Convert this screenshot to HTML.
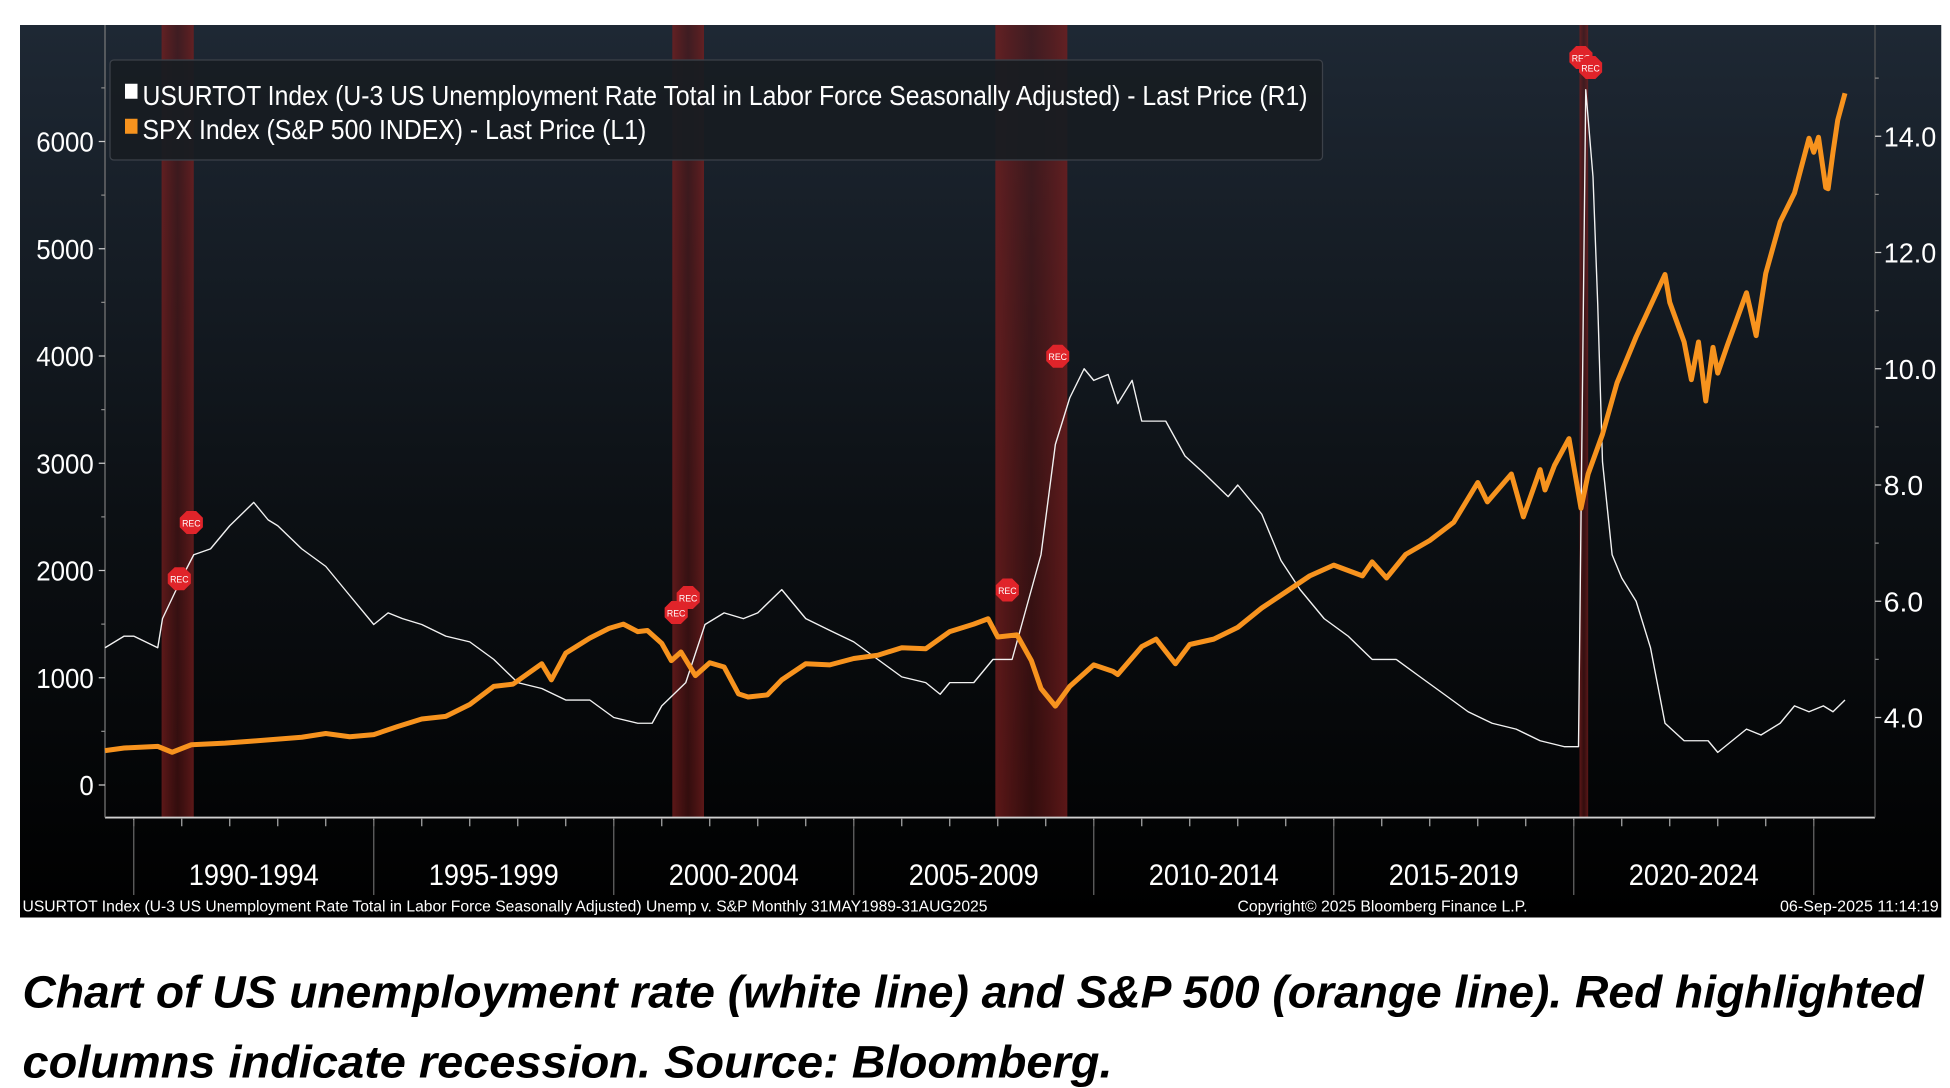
<!DOCTYPE html>
<html><head><meta charset="utf-8"><style>
html,body{margin:0;padding:0;background:#fff;}
svg{display:block;}
text{font-family:"Liberation Sans Narrow","Liberation Sans",sans-serif;}
</style></head><body>
<svg id="chart" width="1950" height="1088" viewBox="0 0 1560 870.4" xmlns="http://www.w3.org/2000/svg">
<defs>
<linearGradient id="bg" x1="0" y1="0" x2="0" y2="1">
<stop offset="0" stop-color="#1e2834"/><stop offset="0.55" stop-color="#0c1014"/><stop offset="1" stop-color="#000"/>
</linearGradient>
<linearGradient id="rec" x1="0" y1="0" x2="1" y2="0">
<stop offset="0" stop-color="#7a1e1e" stop-opacity="0.75"/><stop offset="0.5" stop-color="#5a1414" stop-opacity="0.55"/><stop offset="1" stop-color="#7a1e1e" stop-opacity="0.75"/>
</linearGradient>
</defs>
<rect x="16" y="20" width="1537" height="714" fill="url(#bg)"/>
<g id="rec-layer"></g>
<g id="axes"></g>
<g id="lines"></g>
<g id="markers"></g>
<g>
<rect x="88" y="48" width="970" height="80" rx="3" fill="#171c22" fill-opacity="0.92" stroke="#3c4149"/>
<rect x="100" y="67" width="10" height="12" fill="#fff"/>
<text x="114" y="84" font-size="22" fill="#fff" textLength="932" lengthAdjust="spacingAndGlyphs">USURTOT Index (U-3 US Unemployment Rate Total in Labor Force Seasonally Adjusted) - Last Price (R1)</text>
<rect x="100" y="95" width="10" height="12" fill="#f7931e"/>
<text x="114" y="111" font-size="22" fill="#fff" textLength="403" lengthAdjust="spacingAndGlyphs">SPX Index (S&amp;P 500 INDEX) - Last Price (L1)</text>
</g>
<text x="18" y="729" font-size="12.5" fill="#fff" textLength="772" lengthAdjust="spacingAndGlyphs">USURTOT Index (U-3 US Unemployment Rate Total in Labor Force Seasonally Adjusted) Unemp v. S&amp;P  Monthly 31MAY1989-31AUG2025</text>
<text x="990" y="729" font-size="12.5" fill="#fff" textLength="232" lengthAdjust="spacingAndGlyphs">Copyright© 2025 Bloomberg Finance L.P.</text>
<text x="1424" y="729" font-size="12.5" fill="#fff" textLength="127" lengthAdjust="spacingAndGlyphs">06-Sep-2025 11:14:19</text>
<text x="18" y="806" font-size="36" font-weight="bold" font-style="italic" fill="#000" style="font-family:'Liberation Sans',sans-serif" textLength="1521" lengthAdjust="spacingAndGlyphs">Chart of US unemployment rate (white line) and S&amp;P 500 (orange line). Red highlighted</text>
<text x="18" y="862" font-size="36" font-weight="bold" font-style="italic" fill="#000" style="font-family:'Liberation Sans',sans-serif" textLength="872" lengthAdjust="spacingAndGlyphs">columns indicate recession.  Source: Bloomberg.</text>
</svg>
<script>
const spxDates=[1989.4,1989.8,1990.5,1990.8,1991.2,1991.9,1992.5,1993.5,1994.0,1994.5,1995.0,1995.5,1996.0,1996.5,1997.0,1997.5,1997.9,1998.5,1998.7,1999.0,1999.5,1999.9,2000.2,2000.5,2000.7,2001.0,2001.2,2001.4,2001.7,2002.0,2002.3,2002.6,2002.8,2003.2,2003.5,2004.0,2004.5,2005.0,2005.5,2006.0,2006.5,2007.0,2007.5,2007.8,2008.0,2008.4,2008.7,2008.9,2009.2,2009.5,2010.0,2010.4,2010.5,2011.0,2011.3,2011.7,2012.0,2012.5,2013.0,2013.5,2014.0,2014.5,2015.0,2015.6,2015.8,2016.1,2016.5,2017.0,2017.5,2018.0,2018.2,2018.7,2018.95,2019.3,2019.4,2019.6,2019.9,2020.15,2020.3,2020.6,2020.9,2021.3,2021.9,2022.0,2022.3,2022.45,2022.6,2022.75,2022.9,2023.0,2023.2,2023.6,2023.8,2024.0,2024.3,2024.6,2024.9,2025.0,2025.1,2025.25,2025.3,2025.4,2025.5,2025.65];
const spxValues=[320,345,360,305,375,390,410,445,480,450,470,545,615,640,750,920,940,1130,980,1230,1370,1460,1500,1430,1440,1320,1160,1240,1020,1140,1100,850,820,840,980,1130,1120,1180,1210,1280,1270,1430,1500,1550,1380,1400,1160,900,735,920,1120,1060,1030,1290,1360,1130,1310,1360,1470,1650,1800,1950,2050,1950,2080,1930,2150,2280,2450,2820,2640,2900,2500,2940,2750,2980,3230,2580,2900,3270,3750,4180,4760,4500,4130,3780,4130,3580,4080,3840,4100,4590,4190,4770,5250,5520,6030,5900,6040,5570,5560,5900,6200,6450];
const unDates=[1989.4,1989.8,1990.0,1990.5,1990.6,1991.0,1991.25,1991.6,1992.0,1992.5,1992.8,1993.0,1993.5,1994.0,1994.5,1995.0,1995.3,1995.6,1996.0,1996.5,1997.0,1997.5,1998.0,1998.5,1999.0,1999.5,2000.0,2000.5,2000.8,2001.0,2001.25,2001.5,2001.9,2002.3,2002.7,2003.0,2003.5,2003.8,2004.0,2004.5,2005.0,2005.5,2006.0,2006.5,2006.8,2007.0,2007.5,2007.9,2008.3,2008.5,2008.9,2009.2,2009.5,2009.8,2010.0,2010.3,2010.5,2010.8,2011.0,2011.5,2011.9,2012.3,2012.8,2013.0,2013.5,2013.9,2014.3,2014.8,2015.3,2015.8,2016.3,2016.8,2017.3,2017.8,2018.3,2018.8,2019.3,2019.8,2020.1,2020.25,2020.4,2020.5,2020.6,2020.8,2021.0,2021.3,2021.6,2021.9,2022.3,2022.8,2023.0,2023.3,2023.6,2023.9,2024.3,2024.6,2024.9,2025.2,2025.4,2025.65];
const unValues=[5.2,5.4,5.4,5.2,5.7,6.4,6.8,6.9,7.3,7.7,7.4,7.3,6.9,6.6,6.1,5.6,5.8,5.7,5.6,5.4,5.3,5.0,4.6,4.5,4.3,4.3,4.0,3.9,3.9,4.2,4.4,4.6,5.6,5.8,5.7,5.8,6.2,5.9,5.7,5.5,5.3,5.0,4.7,4.6,4.4,4.6,4.6,5.0,5.0,5.6,6.8,8.7,9.5,10.0,9.8,9.9,9.4,9.8,9.1,9.1,8.5,8.2,7.8,8.0,7.5,6.7,6.2,5.7,5.4,5.0,5.0,4.7,4.4,4.1,3.9,3.8,3.6,3.5,3.5,14.8,13.3,11.1,8.4,6.8,6.4,6.0,5.2,3.9,3.6,3.6,3.4,3.6,3.8,3.7,3.9,4.2,4.1,4.2,4.1,4.3];
const recStarts=[1990.58,2001.22,2007.95,2020.12];
const recEnds=[1991.25,2001.88,2009.45,2020.3];
const leftTicks=[0,1000,2000,3000,4000,5000,6000];
const rightTicks=[4.0,6.0,8.0,10.0,12.0,14.0];
const periodLabels=["1990-1994","1995-1999","2000-2004","2005-2009","2010-2014","2015-2019","2020-2024"];
const periodStarts=[1990,1995,2000,2005,2010,2015,2020];

const NS="http://www.w3.org/2000/svg";
const xS=t=>107+(t-1990)*38.4;
const yL=v=>628-v*0.0858;
const yR=v=>574-(v-4)*46.5;
function mk(tag,attrs,parent){const e=document.createElementNS(NS,tag);for(const k in attrs)e.setAttribute(k,attrs[k]);parent.appendChild(e);return e;}
const recG=document.getElementById('rec-layer'),axG=document.getElementById('axes'),lnG=document.getElementById('lines'),mkG=document.getElementById('markers');

recStarts.forEach((s,i)=>{
  const r=mk('rect',{x:xS(s),y:20,width:Math.max(xS(recEnds[i])-xS(s),5),height:634,fill:'url(#rec)'},recG);
  
  
});

const ax=mk('line',{x1:84,y1:654,x2:1500,y2:654,stroke:'#d0d0d0','stroke-width':1.5},axG);

const la=mk('line',{x1:84,y1:20,x2:84,y2:654,stroke:'#777','stroke-width':1},axG);

const ra=mk('line',{x1:1500,y1:20,x2:1500,y2:654,stroke:'#555','stroke-width':1},axG);

leftTicks.forEach(v=>{
  mk('line',{x1:79,y1:yL(v),x2:84,y2:yL(v),stroke:'#ccc'},axG);
  mk('line',{x1:81,y1:yL(v+500),x2:84,y2:yL(v+500),stroke:'#888'},axG);
  const s=String(v);
  const t=mk('text',{x:75-s.length*11.5,y:yL(v)+8,'font-size':22,fill:'#fff',textLength:s.length*11.5,lengthAdjust:'spacingAndGlyphs'},axG);
  t.textContent=s;
  
});
rightTicks.forEach(v=>{
  mk('line',{x1:1500,y1:yR(v),x2:1505,y2:yR(v),stroke:'#ccc'},axG);
  mk('line',{x1:1500,y1:yR(v+1),x2:1503,y2:yR(v+1),stroke:'#888'},axG);
  const s=v.toFixed(1);
  const t=mk('text',{x:1507,y:yR(v)+8,'font-size':22,fill:'#fff',textLength:s.length*10.5,lengthAdjust:'spacingAndGlyphs'},axG);
  t.textContent=s;
  
});
for(let yr=1990;yr<=2025;yr++){mk('line',{x1:xS(yr),y1:655,x2:xS(yr),y2:661,stroke:'#aaa'},axG);}
periodStarts.concat([2025]).forEach(yr=>{mk('line',{x1:xS(yr),y1:656,x2:xS(yr),y2:716,stroke:'#666'},axG);});
periodLabels.forEach((l,i)=>{
  const cx=xS(periodStarts[i]+2.5);
  const t=mk('text',{x:cx-52,y:708,'font-size':24,fill:'#fff',textLength:104,lengthAdjust:'spacingAndGlyphs'},axG);
  t.textContent=l;
  
});

const un=mk('polyline',{points:unDates.map((d,i)=>xS(d).toFixed(1)+','+yR(unValues[i]).toFixed(1)).join(' '),fill:'none',stroke:'#f2f2f2','stroke-width':1.1,'stroke-linejoin':'round'},lnG);

const spx=mk('polyline',{points:spxDates.map((d,i)=>xS(d).toFixed(1)+','+yL(spxValues[i]).toFixed(1)).join(' '),fill:'none',stroke:'#f7931e','stroke-width':4,'stroke-linejoin':'round'},lnG);


const recMarkX=[1990.95,1991.2,2001.3,2001.55,2008.2,2009.25,2020.15,2020.35];
const recMarkY=[463,418,490,478,472,285,46,54];
recMarkX.forEach((t,i)=>{
  const cx=xS(t),cy=recMarkY[i],r=10;
  let p=[];for(let k=0;k<8;k++){const a=Math.PI/8+k*Math.PI/4;p.push((cx+r*Math.cos(a)).toFixed(1)+','+(cy+r*Math.sin(a)).toFixed(1));}
  const g=mk('g',{},mkG);
  
  mk('polygon',{points:p.join(' '),fill:'#e0242a'},g);
  const tx=mk('text',{x:cx,y:cy+3,'font-size':7,fill:'#fff','text-anchor':'middle'},g);tx.textContent='REC';
});
</script>
</body></html>
